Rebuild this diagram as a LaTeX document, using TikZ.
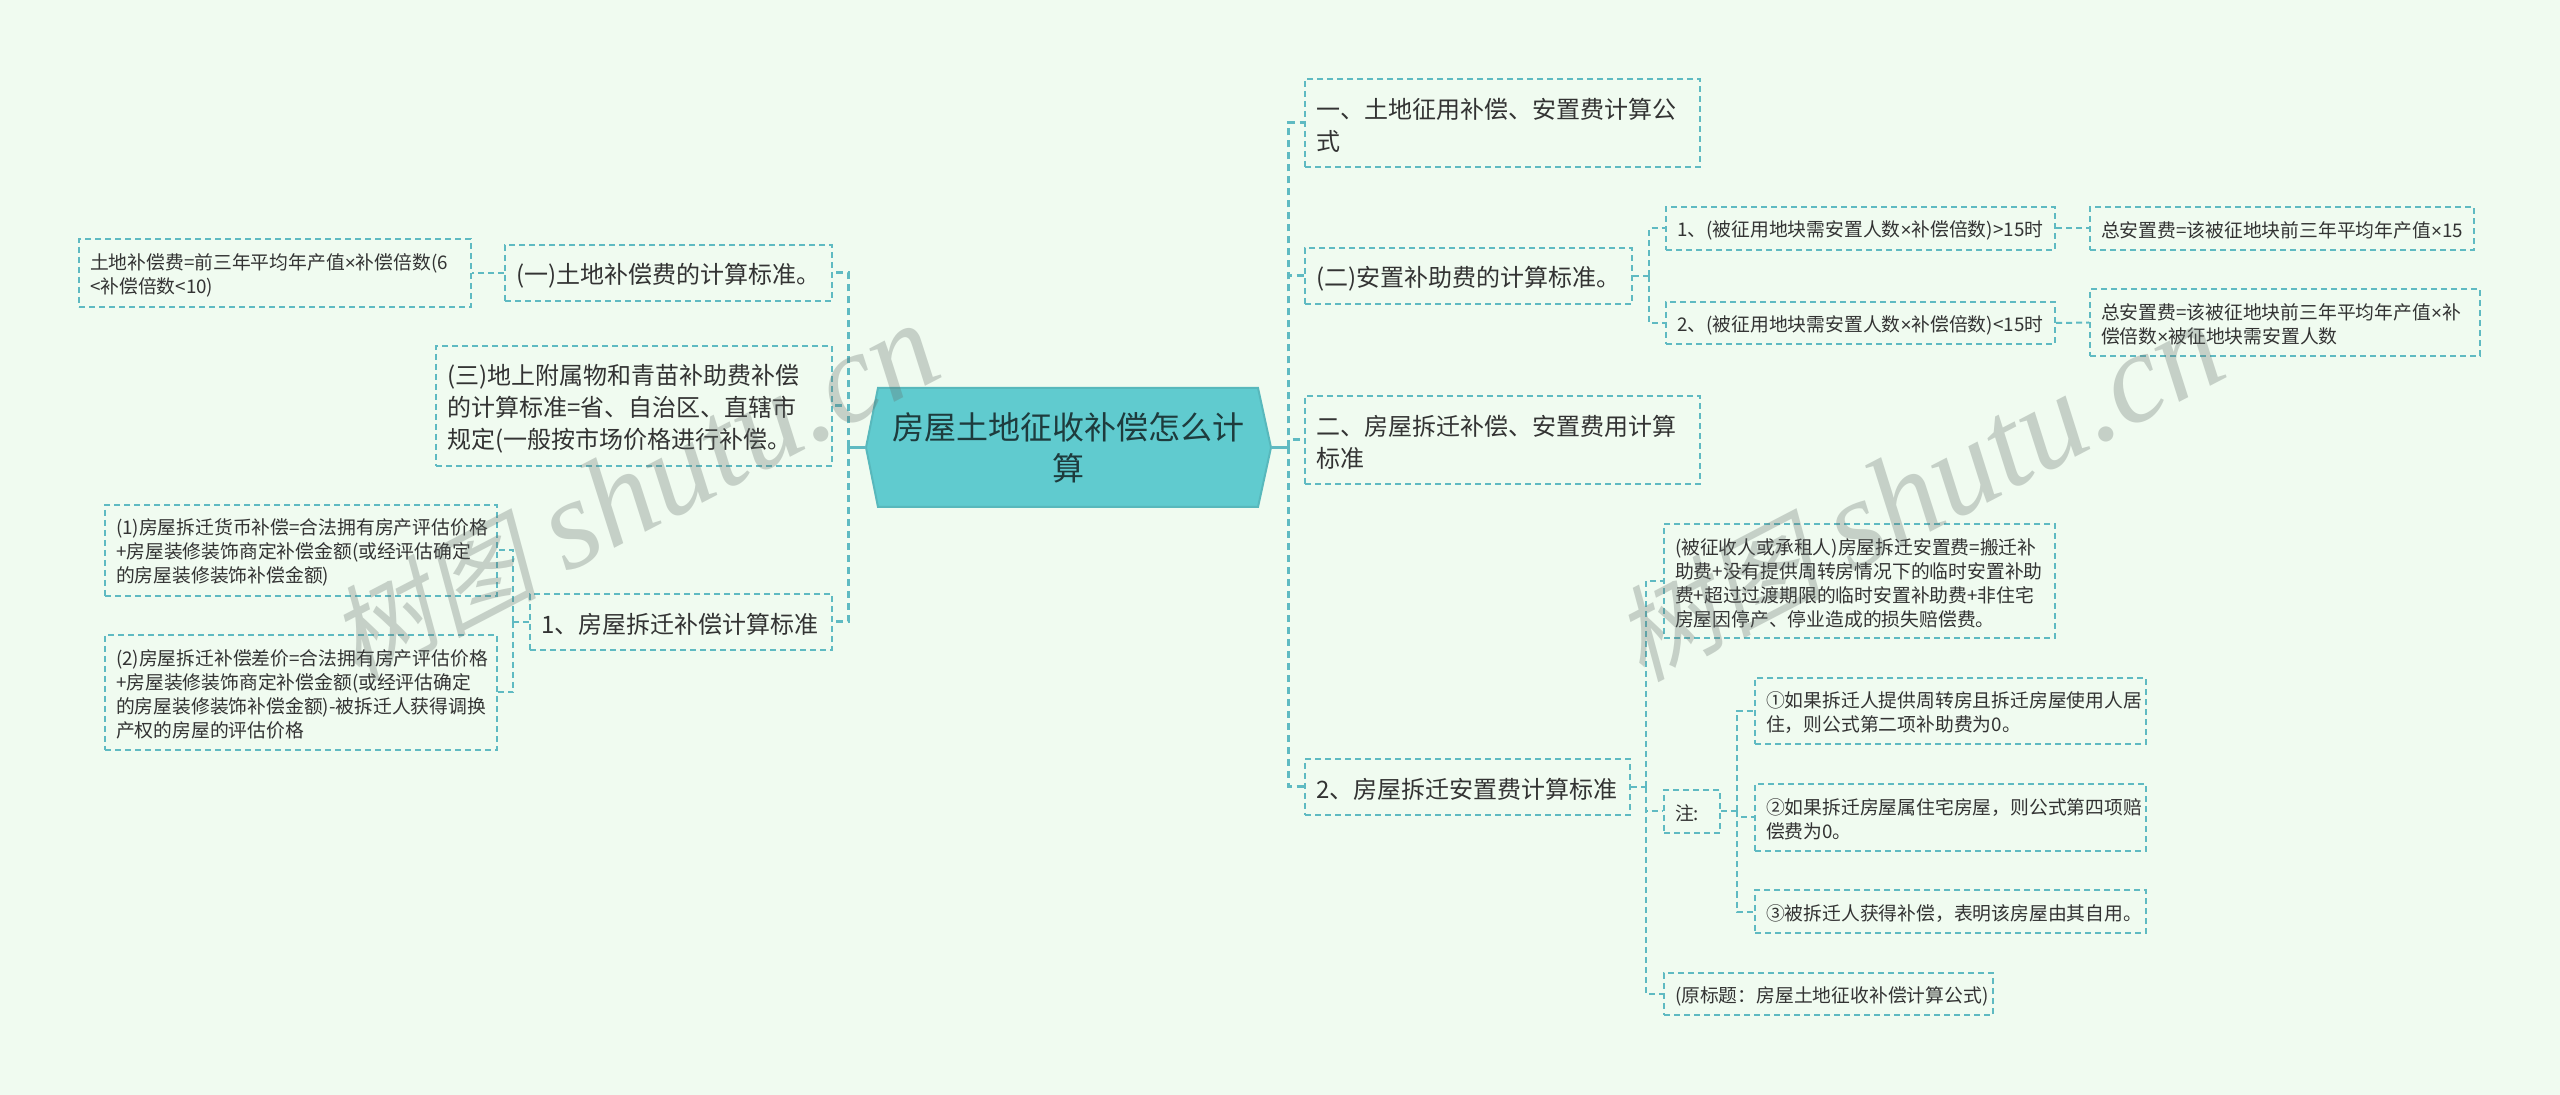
\documentclass[tikz,border=0pt]{standalone}
\usepackage{fontspec}
\setmainfont{Noto Sans CJK SC}
\newfontfamily\wmcjk[FakeSlant=0.22]{Noto Sans CJK SC}
\newfontfamily\wmlat{Liberation Serif}
\newfontfamily\latf{Liberation Sans}
\newcommand\tm{{\latf ×}}
\newcommand\topstrut{\rule{0pt}{1.05em}}
\definecolor{bgc}{HTML}{F0FBF0}
\definecolor{linec}{HTML}{5FBAC2}
\definecolor{rootc}{HTML}{60CBCF}
\definecolor{rootb}{HTML}{58B8BC}
\definecolor{inkc}{HTML}{333333}
\definecolor{rootink}{HTML}{1E3B3D}
\definecolor{wmc}{HTML}{646E69}
\tikzset{
  bxbase/.style={rectangle,draw=linec,line width=1pt,dash pattern=on 3pt off 2pt,inner ysep=0pt,text=inkc,align=left,anchor=center},
  big/.style={bxbase,font=\fontsize{12}{16}\selectfont},
  small/.style={bxbase,font=\fontsize{9.4}{12}\selectfont},
  trunk/.style={draw=linec,line width=1.5pt,dash pattern=on 3.5pt off 2.5pt},
  conn/.style={draw=linec,line width=1pt,dash pattern=on 3pt off 2pt},
  solidc/.style={draw=linec,line width=1.5pt},
  wmark/.style={text=wmc,opacity=.3,rotate=27.5,anchor=base east,inner sep=0pt,font=\fontsize{64}{64}\selectfont},
}
\newcommand\bx[7]{%
  \pgfmathsetmacro\bxw{(#4-#2)*0.5}%
  \pgfmathsetmacro\bxh{(#5-#3)*0.5}%
  \pgfmathsetmacro\bxt{\bxw-11}%
  \node[#6,inner xsep=5.5pt,minimum width=\bxw pt,minimum height=\bxh pt,text width=\bxt pt] (#1) at ({(#2+#4)/2},{(#3+#5)/2}) {\topstrut #7};%
}
\begin{document}
\begin{tikzpicture}[x=0.5pt,y=-0.5pt]
\useasboundingbox (0,0) rectangle (2560,1095);
\fill[bgc] (0,0) rectangle (2560,1095);
% root
\fill[rootc,draw=rootb,line width=1pt] (878,388) -- (1258,388) -- (1271,447.5) -- (1258,507) -- (878,507) -- (866,447.5) -- cycle;
\node[minimum width=202.5pt,minimum height=59.5pt,inner sep=0pt,text width=190pt,align=center,text=rootink,font=\fontsize{16}{20.5}\selectfont] (root) at (1068.5,447.5) {房屋土地征收补偿怎么计\\算};
% left
\bx{A}{79}{239}{471}{307}{small}{土地补偿费=前三年平均年产值\tm 补偿倍数(6\\<补偿倍数<10)}
\bx{B}{505}{245}{832}{301}{big}{(一)土地补偿费的计算标准。}
\bx{C}{436}{346}{832}{466}{big}{(三)地上附属物和青苗补助费补偿\\的计算标准=省、自治区、直辖市\\规定(一般按市场价格进行补偿。}
\bx{D}{105}{505}{497}{596}{small}{(1)房屋拆迁货币补偿=合法拥有房产评估价格\\+房屋装修装饰商定补偿金额(或经评估确定\\的房屋装修装饰补偿金额)}
\bx{E}{105}{635}{497}{750}{small}{(2)房屋拆迁补偿差价=合法拥有房产评估价格\\+房屋装修装饰商定补偿金额(或经评估确定\\\mbox{的房屋装修装饰补偿金额)-被拆迁人获得调换}\\产权的房屋的评估价格}
\bx{F}{530}{594}{832}{650}{big}{1、房屋拆迁补偿计算标准}
% right
\bx{G}{1305}{79}{1700}{167}{big}{一、土地征用补偿、安置费计算公\\式}
\bx{H}{1305}{248}{1632}{304}{big}{(二)安置补助费的计算标准。}
\bx{I}{1666}{207}{2055}{250}{small}{1、(被征用地块需安置人数\tm 补偿倍数)>15时}
\bx{J}{2090}{207}{2474}{250}{small}{总安置费=该被征地块前三年平均年产值\tm 15}
\bx{K}{1666}{302}{2055}{344}{small}{2、(被征用地块需安置人数\tm 补偿倍数)<15时}
\bx{L}{2090}{289}{2480}{356}{small}{总安置费=该被征地块前三年平均年产值\tm 补\\偿倍数\tm 被征地块需安置人数}
\bx{M}{1305}{396}{1700}{484}{big}{二、房屋拆迁补偿、安置费用计算\\标准}
\bx{N}{1305}{759}{1630}{815}{big}{2、房屋拆迁安置费计算标准}
\bx{O}{1664}{524}{2055}{638}{small}{(被征收人或承租人)房屋拆迁安置费=搬迁补\\助费+没有提供周转房情况下的临时安置补助\\费+超过过渡期限的临时安置补助费+非住宅\\房屋因停产、停业造成的损失赔偿费。}
\bx{P}{1664}{790}{1720}{833}{small}{注:}
\bx{Q}{1755}{678}{2146}{744}{small}{①如果拆迁人提供周转房且拆迁房屋使用人居\\住，则公式第二项补助费为0。}
\bx{R}{1755}{784}{2146}{851}{small}{②如果拆迁房屋属住宅房屋，则公式第四项赔\\偿费为0。}
\bx{S}{1755}{890}{2146}{933}{small}{③被拆迁人获得补偿，表明该房屋由其自用。}
\bx{T}{1664}{973}{1993}{1015}{small}{(原标题：房屋土地征收补偿计算公式)}
% junctions
\coordinate (tl) at (848,447.5);
\coordinate (tr) at (1288,447.5);
\coordinate (jF) at (513,622);
\coordinate (jH) at (1649,276);
\coordinate (jN) at (1646,787);
\coordinate (jP) at (1737,811.5);
% connectors
\draw[solidc] (root.west) -- (tl);
\draw[solidc] (root.east) -- (tr);
\draw[trunk] (tl) |- (B.east);
\draw[trunk] (tl) |- (C.east);
\draw[trunk] (tl) |- (F.east);
\draw[trunk] (tr) |- (G.west);
\draw[trunk] (tr) |- (H.west);
\draw[trunk] (tr) |- (M.west);
\draw[trunk] (tr) |- (N.west);
\draw[conn] (B.west) -- (A.east);
\draw[conn] (F.west) -- (jF);
\draw[conn] (jF) |- (D.east);
\draw[conn] (jF) |- (E.east);
\draw[conn] (H.east) -- (jH);
\draw[conn] (jH) |- (I.west);
\draw[conn] (jH) |- (K.west);
\draw[conn] (I.east) -- (J.west);
\draw[conn] (K.east) -- (L.west);
\draw[conn] (N.east) -- (jN);
\draw[conn] (jN) |- (O.west);
\draw[conn] (jN) |- (P.west);
\draw[conn] (jN) |- (T.west);
\draw[conn] (P.east) -- (jP);
\draw[conn] (jP) |- (Q.west);
\draw[conn] (jP) |- (R.west);
\draw[conn] (jP) |- (S.west);
% watermarks
\node[wmark] (wm1) at (948,375) {{\fontsize{52}{52}\selectfont\wmcjk 树图}\hspace{14pt}{\wmlat\itshape shutu.cn}};
\node[wmark] (wm2) at (2233,375) {{\fontsize{52}{52}\selectfont\wmcjk 树图}\hspace{14pt}{\wmlat\itshape shutu.cn}};
\end{tikzpicture}
\end{document}
